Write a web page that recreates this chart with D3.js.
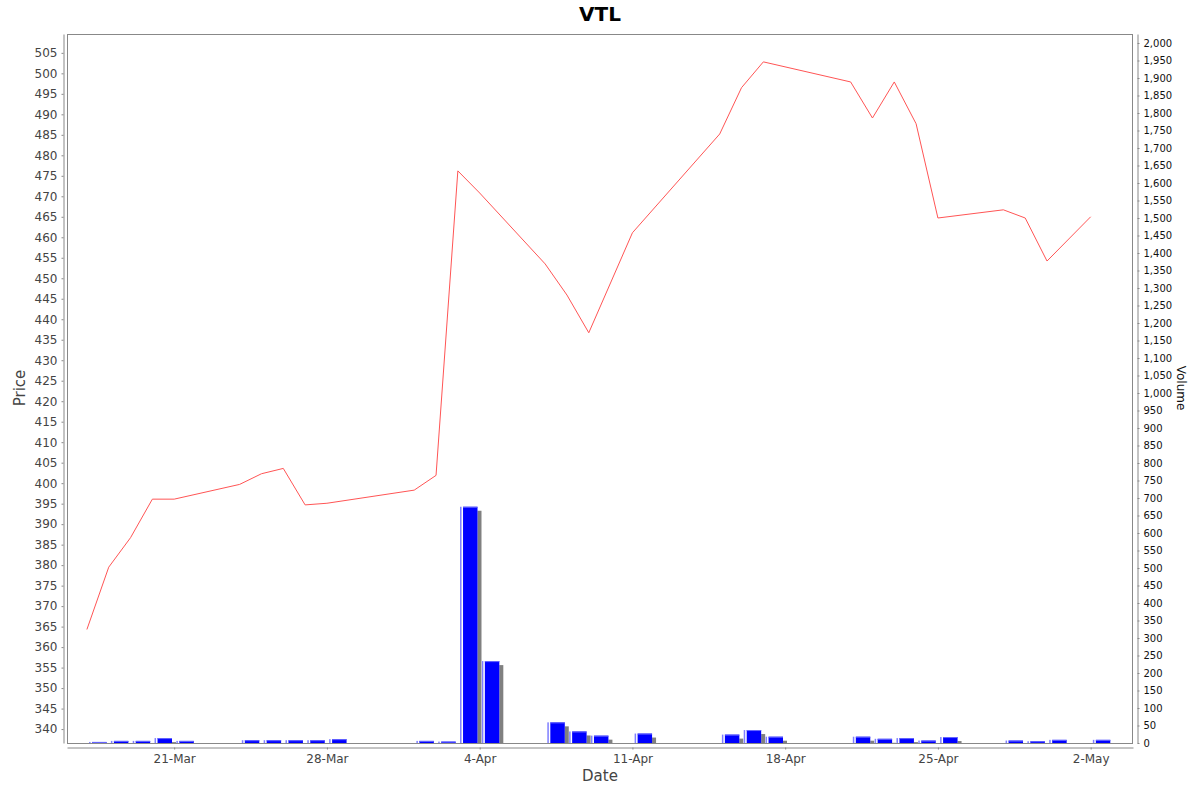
<!DOCTYPE html>
<html>
<head>
<meta charset="utf-8">
<script src="https://cdn.jsdelivr.net/npm/d3@7"></script>
<style>
  body { margin: 0; background: #fff; }
  svg { display: block; font-family: "DejaVu Sans", sans-serif; }
</style>
</head>
<body>
<svg width="1200" height="792"></svg>
<script>
// trading days, close price and volume for VTL
var dates = ["2025-03-17", "2025-03-18", "2025-03-19", "2025-03-20", "2025-03-21",
    "2025-03-24", "2025-03-25", "2025-03-26", "2025-03-27", "2025-03-28",
    "2025-04-01", "2025-04-02", "2025-04-03", "2025-04-04",
    "2025-04-07", "2025-04-08", "2025-04-09", "2025-04-11",
    "2025-04-15", "2025-04-16", "2025-04-17",
    "2025-04-21", "2025-04-22", "2025-04-23", "2025-04-24", "2025-04-25",
    "2025-04-28", "2025-04-29", "2025-04-30", "2025-05-02"];
var prices = [364.3, 379.5, 386.7, 396.1, 396.1,
    399.7, 402.3, 403.6, 394.7, 395.1,
    398.3, 401.9, 476.2, 470.8,
    453.5, 445.9, 436.7, 461.1,
    485.2, 496.5, 502.8,
    497.9, 489.1, 497.9, 487.7, 464.7,
    466.7, 464.7, 454.2, 465.0];
var volumes = [3, 6, 6, 14, 6,
    8, 8, 8, 8, 11,
    6, 4, 675, 234,
    59, 33, 21, 27,
    24, 37, 18,
    18, 12, 14, 7, 17,
    7, 5, 9, 9];
var dateTicks = ["2025-03-21", "2025-03-28", "2025-04-04", "2025-04-11", "2025-04-18", "2025-04-25", "2025-05-02"];
var priceTicks = d3.range(340, 506, 5);
var volumeTicks = d3.range(0, 2001, 50);

var parse = d3.utcParse("%Y-%m-%d");
var DAY = 86400000;

var svg = d3.select("svg"),
    plotLeft = 67, plotRight = 1133, plotTop = 34, plotBottom = 743;

var x = d3.scaleUtc()
    .domain([new Date(+parse(dates[0]) - 0.912 * DAY), new Date(+parse(dates[dates.length - 1]) + 1.94 * DAY)])
    .range([plotLeft, plotRight]);
var yPrice = d3.scaleLinear().domain([336.6, 509.6]).range([plotBottom, plotTop]);
var yVol = d3.scaleLinear().domain([0, 2025.7]).range([plotBottom, plotTop]);

var rows = dates.map(function (d, i) {
    return { date: parse(d), price: prices[i], volume: volumes[i] };
});

// title
svg.append("text")
    .attr("x", 600).attr("y", 21)
    .attr("text-anchor", "middle")
    .style("font-size", "20px").style("font-weight", "bold")
    .text("VTL");

// plot border
svg.append("rect")
    .attr("x", plotLeft + 0.5).attr("y", plotTop + 0.5)
    .attr("width", plotRight - plotLeft - 1).attr("height", plotBottom - plotTop)
    .attr("fill", "none").attr("stroke", "#888");

svg.append("clipPath").attr("id", "clip")
    .append("rect").attr("x", plotLeft).attr("y", plotTop)
    .attr("width", plotRight - plotLeft).attr("height", plotBottom - plotTop);

var plot = svg.append("g").attr("clip-path", "url(#clip)");

function barX0(d) { return x(new Date(+d.date + 0.1 * DAY)); }
function barX1(d) { return x(new Date(+d.date + 0.9 * DAY)); }
function barH(d) { return plotBottom - yVol(d.volume); }

// bar shadows
plot.selectAll(".shadow")
    .data(rows)
    .enter()
    .append("rect")
    .attr("class", "shadow")
    .attr("x", function (d) { return barX0(d) + 4; })
    .attr("y", function (d) { return yVol(d.volume) + 4; })
    .attr("width", function (d) { return barX1(d) - barX0(d); })
    .attr("height", function (d) { return Math.max(0, barH(d) - 4); })
    .attr("fill", "#808080");

// volume bars
var bars = plot.selectAll(".bar")
    .data(rows)
    .enter()
    .append("g")
    .attr("class", "bar");

bars.append("rect")
    .attr("x", barX0)
    .attr("y", function (d) { return yVol(d.volume); })
    .attr("width", function (d) { return barX1(d) - barX0(d); })
    .attr("height", barH)
    .attr("fill", "#fff");

bars.append("rect")
    .attr("x", barX0)
    .attr("y", function (d) { return yVol(d.volume); })
    .attr("width", 1.5)
    .attr("height", barH)
    .attr("fill", "#7f7fff");

bars.append("rect")
    .attr("x", function (d) { return barX0(d) + 3; })
    .attr("y", function (d) { return yVol(d.volume); })
    .attr("width", function (d) { return barX1(d) - barX0(d) - 3; })
    .attr("height", barH)
    .attr("fill", "#0000ff");

bars.append("rect")
    .attr("x", function (d) { return barX0(d) + 3; })
    .attr("y", function (d) { return yVol(d.volume); })
    .attr("width", function (d) { return barX1(d) - barX0(d) - 3; })
    .attr("height", 1)
    .attr("fill", "#6a6aff");

// price line
var line = d3.line()
    .x(function (d) { return x(d.date); })
    .y(function (d) { return yPrice(d.price); });

plot.append("path")
    .datum(rows)
    .attr("d", line)
    .attr("fill", "none")
    .attr("stroke", "#ff5555")
    .attr("stroke-width", 1);

// axes
function styleAxis(g, color, size) {
    g.selectAll("path, line").attr("stroke", "#888");
    g.selectAll("text").attr("fill", color)
        .style("font-family", "DejaVu Sans, sans-serif").style("font-size", size);
}

svg.append("g")
    .attr("transform", "translate(63.5,0)")
    .call(d3.axisLeft(yPrice).tickValues(priceTicks).tickSize(2).tickSizeOuter(0).tickPadding(4))
    .call(styleAxis, "#444", "12px");

svg.append("g")
    .attr("transform", "translate(1137.5,0)")
    .call(d3.axisRight(yVol).tickValues(volumeTicks).tickFormat(d3.format(",")).tickSize(2).tickSizeOuter(0).tickPadding(4))
    .call(styleAxis, "#111", "10px");

svg.append("g")
    .attr("transform", "translate(0,747.5)")
    .call(d3.axisBottom(x).tickValues(dateTicks.map(parse)).tickFormat(d3.utcFormat("%-d-%b")).tickSize(2).tickSizeOuter(0).tickPadding(5))
    .call(styleAxis, "#444", "12px");

// axis labels
svg.append("text")
    .attr("transform", "translate(25,388) rotate(-90)")
    .attr("text-anchor", "middle")
    .attr("fill", "#444")
    .style("font-size", "15px")
    .text("Price");

svg.append("text")
    .attr("transform", "translate(1177,388) rotate(90)")
    .attr("text-anchor", "middle")
    .attr("fill", "#111")
    .style("font-size", "12px")
    .text("Volume");

svg.append("text")
    .attr("x", 600).attr("y", 781)
    .attr("text-anchor", "middle")
    .attr("fill", "#444")
    .style("font-size", "15px")
    .text("Date");
</script>
</body>
</html>
